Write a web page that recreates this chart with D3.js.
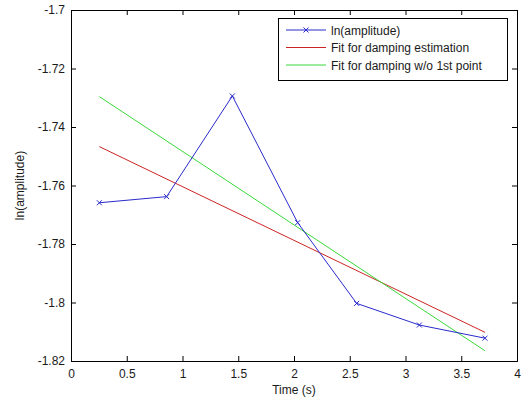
<!DOCTYPE html>
<html>
<head>
<meta charset="utf-8">
<script src="https://cdn.jsdelivr.net/npm/d3@7"></script>
<style>
  body { margin:0; background:#fff; }
  text { font-family: "Liberation Sans", Arial, sans-serif; font-size:12px; fill:#1a1a1a; }
</style>
</head>
<body>
<svg id="chart" width="522" height="402"></svg>
<script>
// measured points
var times = [0.254, 0.858, 1.447, 2.033, 2.562, 3.124, 3.713];
var lnAmp = [-1.7659, -1.7638, -1.7294, -1.7727, -1.8003, -1.8077, -1.8122];
// fit lines (end points)
var fitTimes = [0.254, 3.713];
var fitAll = [-1.7467, -1.8102];
var fitNoFirst = [-1.7296, -1.8165];
var xTicks = [0, 0.5, 1, 1.5, 2, 2.5, 3, 3.5, 4];
var yTicks = [-1.82, -1.8, -1.78, -1.76, -1.74, -1.72, -1.7];
var legendNames = ["ln(amplitude)", "Fit for damping estimation", "Fit for damping w/o 1st point"];
var colors = ["#2a2acc", "#cc2424", "#3ad83a"];

var svg = d3.select("#chart");
var L = 71, T = 10, R = 517, B = 361;
var x = d3.scaleLinear().domain([0, 4]).range([L, R]);
var y = d3.scaleLinear().domain([-1.82, -1.7]).range([B, T]);

function fmt(d){ return String(+d.toFixed(2)); }

// axes with inward ticks
var gx = svg.append("g").attr("transform","translate(0,"+B+")")
  .call(d3.axisBottom(x).tickValues(xTicks).tickSize(-5).tickPadding(8).tickFormat(fmt));
var gy = svg.append("g").attr("transform","translate("+L+",0)")
  .call(d3.axisLeft(y).tickValues(yTicks).tickSize(-5).tickPadding(6).tickFormat(fmt));
var gx2 = svg.append("g").attr("transform","translate(0,"+T+")")
  .call(d3.axisTop(x).tickValues(xTicks).tickSize(-5).tickFormat(""));
var gy2 = svg.append("g").attr("transform","translate("+R+",0)")
  .call(d3.axisRight(y).tickValues(yTicks).tickSize(-5).tickFormat(""));
[gx, gy, gx2, gy2].forEach(function(g){
  g.selectAll("path.domain").attr("stroke","#000").attr("stroke-width",1);
  g.selectAll(".tick line").attr("stroke","#000");
  g.selectAll("text").style("font-size","12px").attr("fill","#1a1a1a")
    .style("font-family","'Liberation Sans', Arial, sans-serif");
});

svg.append("text").attr("x",(L+R)/2).attr("y",394).attr("text-anchor","middle").text("Time (s)");
svg.append("text").attr("transform","translate(24,"+((T+B)/2)+") rotate(-90)")
  .attr("text-anchor","middle").text("ln(amplitude)");

var line = d3.line().x(function(d){return x(d[0]);}).y(function(d){return y(d[1]);});
var pts = times.map(function(t,i){ return [t, lnAmp[i]]; });

svg.append("path").datum(fitTimes.map(function(t,i){return [t, fitAll[i]];}))
  .attr("d", line).attr("fill","none").attr("stroke",colors[1]).attr("stroke-width",1);
svg.append("path").datum(fitTimes.map(function(t,i){return [t, fitNoFirst[i]];}))
  .attr("d", line).attr("fill","none").attr("stroke",colors[2]).attr("stroke-width",1);
svg.append("path").datum(pts).attr("d", line).attr("fill","none")
  .attr("stroke",colors[0]).attr("stroke-width",1);

function cross(g, cx, cy){
  var s = 2.5;
  g.append("path").attr("d","M"+(cx-s)+","+(cy-s)+"L"+(cx+s)+","+(cy+s)+"M"+(cx-s)+","+(cy+s)+"L"+(cx+s)+","+(cy-s))
    .attr("stroke",colors[0]).attr("stroke-width",1).attr("fill","none");
}
var mk = svg.append("g");
pts.forEach(function(p){ cross(mk, x(p[0]), y(p[1])); });

// legend
var lg = svg.append("g");
lg.append("rect").attr("x",278.5).attr("y",18.5).attr("width",229).attr("height",62)
  .attr("fill","#fff").attr("stroke","#000").attr("stroke-width",1);
legendNames.forEach(function(n,i){
  var ly = 30 + i*17.5;
  lg.append("line").attr("x1",286).attr("x2",326).attr("y1",ly).attr("y2",ly)
    .attr("stroke",colors[i]).attr("stroke-width",1);
  if(i==0) cross(lg, 306, ly);
  lg.append("text").attr("x",331).attr("y",ly+4.5).text(n);
});
</script>
</body>
</html>
